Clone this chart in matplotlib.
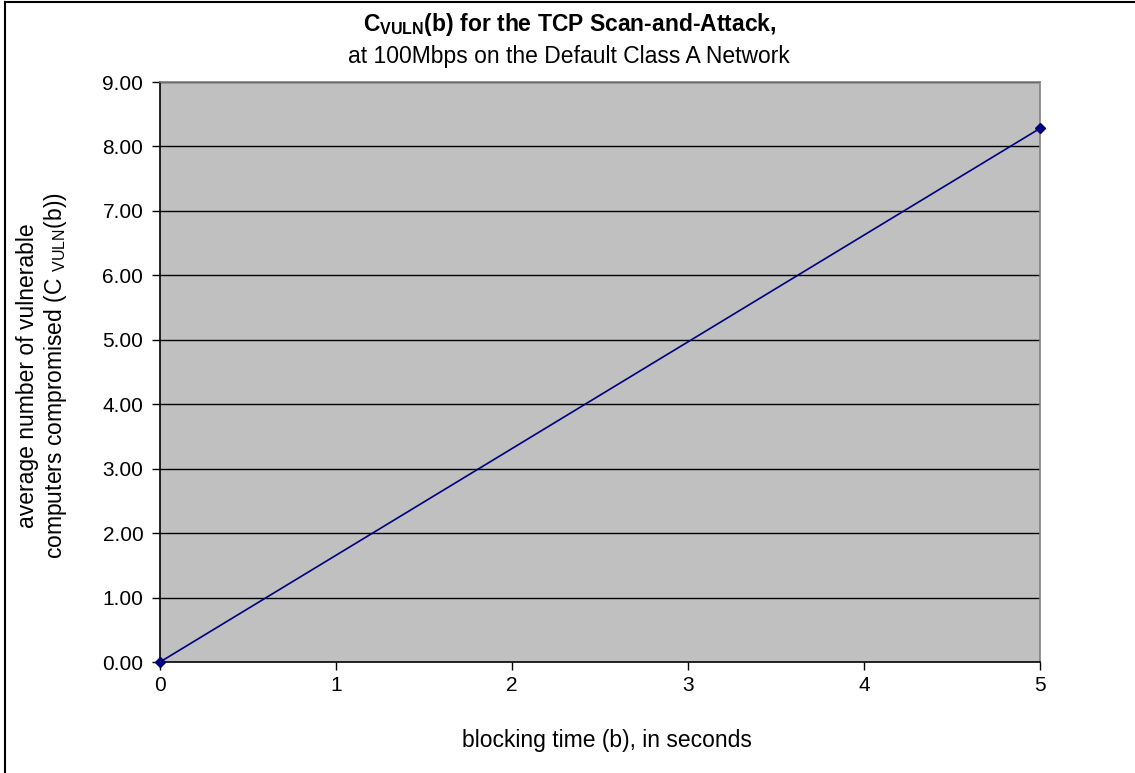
import matplotlib
matplotlib.use("Agg")
import matplotlib.pyplot as plt
from matplotlib.lines import Line2D

# blocking time (s) and average compromised computers
block_time = [0, 5]
c_vuln = [0.0, 8.28]

y_ticks = [0, 1, 2, 3, 4, 5, 6, 7, 8, 9]
x_ticks = [0, 1, 2, 3, 4, 5]

plt.rcParams['font.family'] = ['Liberation Sans', 'DejaVu Sans']
plt.rcParams['mathtext.fontset'] = 'custom'
plt.rcParams['mathtext.rm'] = 'Liberation Sans'
plt.rcParams['mathtext.it'] = 'Liberation Sans'
plt.rcParams['mathtext.bf'] = 'Liberation Sans:bold'

fig = plt.figure(figsize=(11.35, 7.73), dpi=100)
W, H = 1135, 773
ax = fig.add_axes([160 / W, 1 - 662 / H, (1040 - 160) / W, (662 - 82) / H])
ax.set_facecolor('#c0c0c0')

for y in y_ticks[1:]:
    ax.axhline(y, color='black', linewidth=1, zorder=1)

ax.plot(block_time, c_vuln, color='#000080', linewidth=1.2,
        marker='D', markersize=5.5, clip_on=False, zorder=3)

ax.set_xlim(0, 5)
ax.set_ylim(0, 9)
ax.set_xticks(x_ticks)
ax.set_yticks(y_ticks)
ax.set_yticklabels(['%.2f' % v for v in y_ticks])
ax.tick_params(axis='both', labelsize=15, direction='out', length=6,
               width=1, color='black')
ax.tick_params(axis='x', pad=4)
ax.tick_params(axis='y', pad=6)
for s in ax.spines.values():
    s.set_color('#808080')
    s.set_linewidth(1.2)
ax.spines['left'].set_color('black')
ax.spines['bottom'].set_color('black')

fig.text(570 / W, 1 - 25 / H,
         r'$\mathbf{C_{VULN}}$(b) for the TCP Scan-and-Attack,',
         ha='center', va='center', fontsize=16.5, fontweight='bold')
fig.text(569 / W, 1 - 56 / H,
         'at 100Mbps on the Default Class A Network',
         ha='center', va='center', fontsize=16.5)
fig.text(607 / W, 1 - 740 / H, 'blocking time (b), in seconds',
         ha='center', va='center', fontsize=16.5)
fig.text(43 / W, 1 - 376 / H,
         'average number of vulnerable\n'
         r'computers compromised (C $_{\mathrm{VULN}}$(b))',
         ha='center', va='center', rotation=90, fontsize=16.5,
         linespacing=1.15)

# outer chart frame (only top and left edges fall inside the image)
fig.lines.append(Line2D([5 / W, 5 / W], [0, 1 - 2 / H],
                        transform=fig.transFigure, color='black', linewidth=1.5))
fig.lines.append(Line2D([5 / W, 1], [1 - 2 / H, 1 - 2 / H],
                        transform=fig.transFigure, color='black', linewidth=1.5))

fig.savefig('out.png', dpi=100)
